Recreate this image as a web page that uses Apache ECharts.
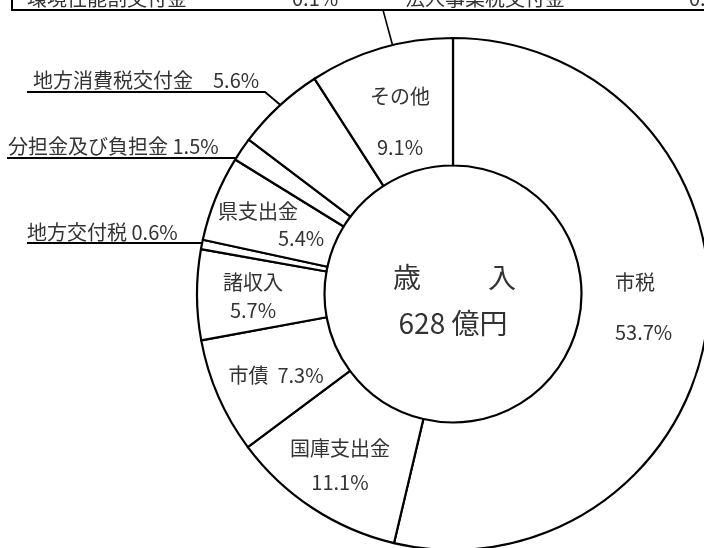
<!DOCTYPE html>
<html>
<head>
<meta charset="utf-8">
<script src="https://cdn.jsdelivr.net/npm/echarts@6/dist/echarts.min.js"></script>
<style>
html, body { margin: 0; padding: 0; background: #fff; }
#main { width: 704px; height: 548px; }
</style>
</head>
<body>
<div id="main"></div>
<script>
// 歳入の内訳（%）
const names = ['市税', '国庫支出金', '市債', '諸収入', '地方交付税', '県支出金', '分担金及び負担金', '地方消費税交付金', 'その他'];
const shares = [53.7, 11.1, 7.3, 5.7, 0.6, 5.4, 1.5, 5.6, 9.1];
// 上の枠（その他の内訳、上端で切れている）
const boxNames = ['環境性能割交付金', '法人事業税交付金'];
const boxShares = [0.1, 0.4];
// 歳入総額（億円）
const total = 628;

const FONT = '"Noto Sans CJK JP", "Noto Sans CJK SC", sans-serif';
const pct = (v) => v.toFixed(1) + '%';

/*ラベルの文字*/
function labelText(name, value) {
  switch (name) {
    case '市債': return name + '  ' + pct(value);
    case '県支出金': return name + '\n　　　' + pct(value);
    case '地方消費税交付金': return name + '　' + pct(value);
    case '分担金及び負担金':
    case '地方交付税': return name + ' ' + pct(value);
    default: return name + '\n' + pct(value);
  }
}

/*ラベルの位置*/
const labelPos = {
  '市税': { x: 615, y: 307, align: 'left', lh: 50 },
  '国庫支出金': { x: 340, y: 465, align: 'center', lh: 34 },
  '市債': { x: 276, y: 375, align: 'center', lh: 24 },
  '諸収入': { x: 253, y: 296, align: 'center', lh: 28 },
  '地方交付税': { x: 27, y: 232, align: 'left', lh: 24, line: [[208, 243], [204, 243], [27, 243]] },
  '県支出金': { x: 218, y: 225, align: 'left', lh: 27 },
  '分担金及び負担金': { x: 8, y: 146, align: 'left', lh: 24, line: [[255, 158], [250, 158], [7, 158]] },
  '地方消費税交付金': { x: 33, y: 80, align: 'left', lh: 24, line: [[303, 124], [265, 92], [27, 92]] },
  'その他': { x: 400, y: 122, align: 'center', lh: 51 }
};

const pieData = names.map((n, i) => {
  const p = labelPos[n];
  return {
    name: n,
    value: shares[i],
    label: {
      position: p.line ? 'outside' : 'inside',
      lineHeight: p.lh,
      formatter: () => labelText(n, shares[i])
    },
    labelLine: { show: !!p.line }
  };
});

const myChart = echarts.init(document.getElementById('main'));

function boxText(text, x) {
  return {
    type: 'text', x: x, y: -2,
    style: { text: text, fill: '#333', font: '20px ' + FONT, align: 'left', verticalAlign: 'middle', textAlign: 'left', textVerticalAlign: 'middle' }
  };
}

function centerText(text, x, y) {
  return {
    type: 'text', x: x, y: y,
    style: { text: text, fill: '#333', font: '28px ' + FONT, align: 'center', verticalAlign: 'middle', textAlign: 'center', textVerticalAlign: 'middle' }
  };
}

const option = {
  animation: false,
  backgroundColor: '#fff',
  series: [
    {
      type: 'pie',
      center: [453, 294],
      radius: [128.5, 256],
      startAngle: 90,
      clockwise: true,
      avoidLabelOverlap: false,
      silent: true,
      itemStyle: { color: '#fff', borderColor: '#000', borderWidth: 2.2 },
      label: {
        show: true,
        color: '#333',
        fontSize: 20,
        fontFamily: FONT,
        rotate: 0
      },
      labelLine: {
        lineStyle: { color: '#000', width: 1.8 }
      },
      labelLayout: function (params) {
        const p = labelPos[names[params.dataIndex]];
        const out = { x: p.x, y: p.y, align: p.align, verticalAlign: 'middle' };
        if (p.line) out.labelLinePoints = p.line;
        return out;
      },
      data: pieData
    }
  ],
  graphic: [
    // 上の枠
    {
      type: 'rect',
      shape: { x: 12, y: -30, width: 720, height: 40 },
      style: { fill: 'none', stroke: '#000', lineWidth: 2 }
    },
    boxText(boxNames[0], 27),
    boxText(pct(boxShares[0]), 292),
    boxText(boxNames[1], 405),
    boxText(pct(boxShares[1]), 689),
    // 枠から「その他」への線
    {
      type: 'line',
      shape: { x1: 383, y1: 10, x2: 399, y2: 69 },
      style: { stroke: '#000', lineWidth: 1.6 }
    },
    // 中央の文字
    centerText('歳', 407, 277),
    centerText('入', 502, 277),
    centerText(total + ' 億円', 453, 323)
  ]
};

myChart.setOption(option);
</script>
</body>
</html>
